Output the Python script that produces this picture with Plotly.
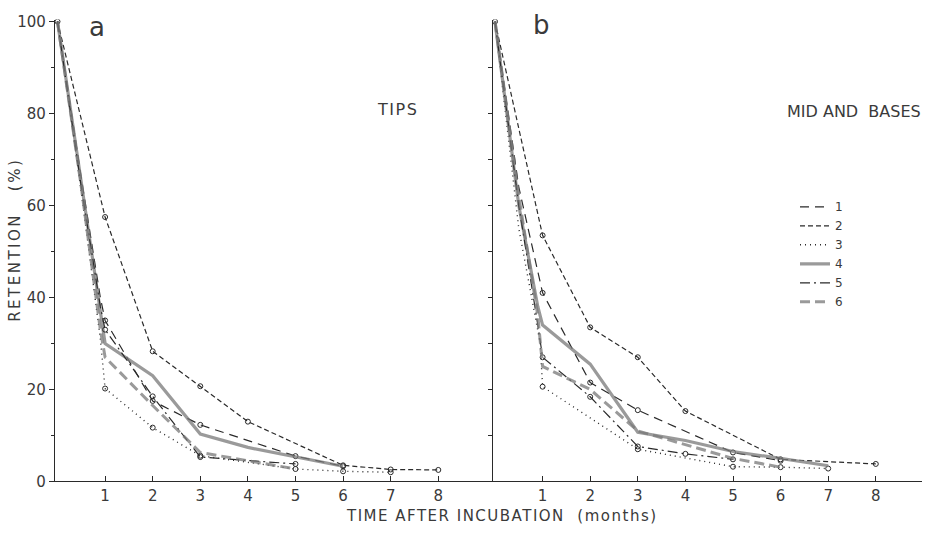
import plotly.graph_objects as go

# ---------------- data ----------------
series_names = ["1", "2", "3", "4", "5", "6"]
month_ticks = [1, 2, 3, 4, 5, 6, 7, 8]
retention_ticks = [0, 20, 40, 60, 80, 100]

# panel a : TIPS
a1_x = [0, 0.5, 0.9, 1, 2, 3, 5, 6]
a1_y = [100, 66, 40, 35, 17.5, 12.3, 5.5, 3.3]
a2_x = [0, 1, 2, 3, 4, 6, 7, 8]
a2_y = [100, 57.5, 28.3, 20.7, 13.0, 3.5, 2.6, 2.5]
a3_x = [0, 0.5, 0.9, 1, 2, 3, 5, 6, 7]
a3_y = [100, 63, 31, 20.2, 11.7, 5.6, 2.7, 2.2, 2.0]
a4_x = [0, 0.5, 0.9, 1, 2, 3, 4, 5, 6]
a4_y = [100, 65, 36, 30, 23, 10.3, 7.4, 5.3, 3.3]
a5_x = [0, 0.5, 0.9, 1, 2, 3, 5]
a5_y = [100, 64, 38, 33, 18.5, 5.3, 3.8]
a6_x = [0, 0.5, 0.9, 1, 2, 3, 5]
a6_y = [100, 64, 33, 27, 16.5, 6.3, 2.7]

# panel b : MID AND BASES
b1_x = [0, 0.5, 1, 2, 3, 5, 6]
b1_y = [100, 64, 41, 21.5, 15.5, 6.3, 4.5]
b2_x = [0, 1, 2, 3, 4, 6, 8]
b2_y = [100, 53.5, 33.5, 27.0, 15.3, 4.8, 3.8]
b3_x = [0, 0.5, 0.95, 1, 3, 5, 6, 7]
b3_y = [100, 55, 30, 20.6, 7.0, 3.2, 3.1, 2.8]
b4_x = [0, 0.5, 0.9, 1, 2, 3, 4, 5, 6, 7]
b4_y = [100, 60, 38, 34, 25.5, 10.7, 8.9, 6.5, 5.0, 3.4]
b5_x = [0, 0.5, 0.9, 1, 2, 3, 4, 5]
b5_y = [100, 60, 34, 27, 18.4, 7.6, 6.0, 4.8]
b6_x = [0, 0.5, 0.9, 1, 2, 3, 5, 6]
b6_y = [100, 62, 36, 25, 20, 11, 5.0, 3.1]

panel_a = [(a1_x, a1_y), (a2_x, a2_y), (a3_x, a3_y), (a4_x, a4_y), (a5_x, a5_y), (a6_x, a6_y)]
panel_b = [(b1_x, b1_y), (b2_x, b2_y), (b3_x, b3_y), (b4_x, b4_y), (b5_x, b5_y), (b6_x, b6_y)]

# ---------------- styles ----------------
INK = "#2a2a2a"
GRAY = "rgba(120,120,120,0.75)"
styles = [
    dict(color=INK, width=1.2, dash="9px,6px"),
    dict(color=INK, width=1.2, dash="5px,3px"),
    dict(color=INK, width=1.4, dash="1px,4px"),
    dict(color=GRAY, width=3.2, dash="solid"),
    dict(color=INK, width=1.2, dash="10px,4px,2px,4px"),
    dict(color=GRAY, width=3.0, dash="10px,5px"),
]
with_markers = [True, True, True, False, True, False]

W, H = 925, 537
def fx(p):
    return p / W
def fy(p):
    return (H - p) / H

fig = go.Figure()

for panel, xa, ya in [(panel_a, "x", "y"), (panel_b, "x2", "y2")]:
    for i, (xs, ys) in enumerate(panel):
        fig.add_trace(go.Scatter(
            x=xs, y=ys, mode="lines", xaxis=xa, yaxis=ya,
            line=styles[i], name=series_names[i], legendgroup=series_names[i],
            showlegend=(xa == "x2"), hoverinfo="skip"))
        if with_markers[i]:
            keep = [k for k, v in enumerate(xs) if v >= 1 or (v == 0 and i == 1)]
            fig.add_trace(go.Scatter(
                x=[xs[k] for k in keep], y=[ys[k] for k in keep],
                mode="markers", xaxis=xa, yaxis=ya, showlegend=False,
                marker=dict(symbol="circle-open", size=5, color=INK, line=dict(width=1)),
                hoverinfo="skip"))

font_tick = dict(family="DejaVu Sans", size=15, color="#3a3a3a")
y_top, y_bot = 13, 489
yrange = [0, (y_bot - y_top) / 4.74]

common_x = dict(showgrid=False, zeroline=False, showline=True, linecolor=INK, linewidth=1.4,
                ticks="inside", ticklen=5, tickcolor=INK, tickwidth=1.2,
                tickvals=month_ticks, tickfont=font_tick)
common_y = dict(showgrid=False, zeroline=False, showline=True, linecolor=INK, linewidth=1.4,
                range=yrange, domain=[fy(y_bot), fy(y_top)],
                ticks="outside", ticklen=5, tickcolor=INK, tickwidth=1,
                tickfont=font_tick)

fig.update_layout(
    width=W, height=H, margin=dict(l=0, r=0, t=0, b=0),
    paper_bgcolor="white", plot_bgcolor="white",
    xaxis=dict(common_x, domain=[fx(55), fx(493)],
               range=[(55 - 57.5) / 47.6, (493 - 57.5) / 47.6], anchor="y"),
    yaxis=dict(common_y, tickvals=retention_ticks, anchor="x",
               minor=dict(tickvals=[10, 30, 50, 70, 90], ticks="outside", ticklen=3,
                          tickcolor=INK)),
    xaxis2=dict(common_x, domain=[fx(493), fx(922)],
                range=[(493 - 495) / 47.6, (922 - 495) / 47.6], anchor="y2"),
    yaxis2=dict(common_y, tickvals=[10, 20, 30, 40, 50, 60, 70, 80, 90],
                showticklabels=False, ticklen=4, anchor="x2"),
    showlegend=True,
    legend=dict(x=fx(795), y=fy(191), xanchor="left", yanchor="top",
                font=dict(family="DejaVu Sans", size=12, color="#3a3a3a"),
                bgcolor="rgba(0,0,0,0)", tracegroupgap=0, itemwidth=30),
)

ann_font = dict(family="DejaVu Sans", color="#3a3a3a")
def spaced(t, px):
    return '<span style="letter-spacing:%spx">%s</span>' % (px, t)

annotations = [
    dict(text="a", x=fx(97), y=fy(21), font=dict(ann_font, size=26)),
    dict(text="b", x=fx(541), y=fy(19), font=dict(ann_font, size=26)),
    dict(text=spaced("TIPS", 1.5), x=fx(397), y=fy(106), font=dict(ann_font, size=16)),
    dict(text="MID AND  BASES", x=fx(854), y=fy(108), font=dict(ann_font, size=16)),
    dict(text=spaced("RETENTION   (%)", 2.5), x=fx(15), y=fy(240), textangle=-90,
         font=dict(ann_font, size=15)),
    dict(text=spaced("TIME AFTER INCUBATION  (months)", 1.5), x=fx(502), y=fy(525),
         font=dict(ann_font, size=15)),
]
for a in annotations:
    fig.add_annotation(xref="paper", yref="paper", showarrow=False,
                       xanchor="center", yanchor="middle", **a)

fig.write_html("out.html", config={"displayModeBar": False},
               post_script="document.body.style.margin='0px';document.body.style.overflow='hidden';")
